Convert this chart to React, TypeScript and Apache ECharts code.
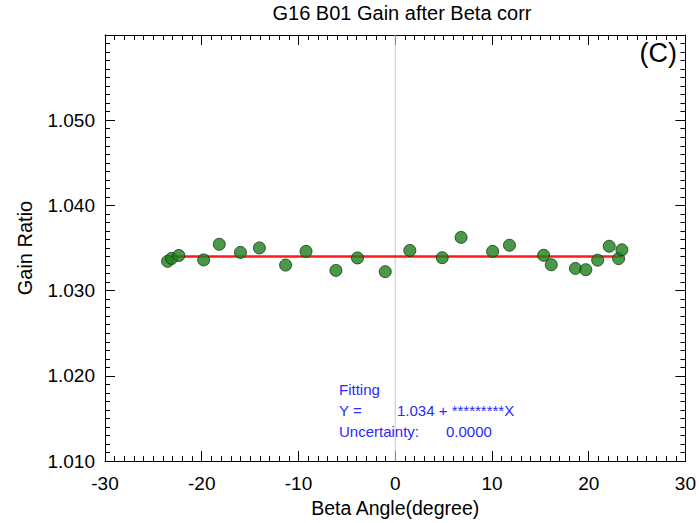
import React, { useEffect, useRef } from "react";
import * as echarts from "echarts";

const betaAngle = [-23.53, -23.12, -22.37, -19.8, -18.19, -16.0, -14.04, -11.33, -9.22, -6.13, -3.9, -1.03, 1.51, 4.86, 6.81, 10.07, 11.81, 15.34, 16.13, 18.63, 19.7, 20.93, 22.12, 23.09, 23.43];
const gainRatio = [1.03344, 1.03378, 1.03413, 1.03361, 1.03544, 1.03449, 1.03502, 1.033, 1.03461, 1.03238, 1.03384, 1.03223, 1.03472, 1.03387, 1.03625, 1.03461, 1.03533, 1.03415, 1.03304, 1.03261, 1.03246, 1.03358, 1.03521, 1.03376, 1.03479];
const fitX = [-23.53, 23.43];
const fitIntercept = 1.034;
const xTicks = [-30, -20, -10, 0, 10, 20, 30];
const yTicks = [1.01, 1.02, 1.03, 1.04, 1.05, 1.06];
const fitLabels = ["Fitting", "Y =", "Uncertainty:"];
const fitValues = ["", "1.034 + *********X", "0.0000"];

const FONT = "Liberation Sans, Arial, Helvetica, sans-serif";

export default function App() {
  const ref = useRef<HTMLDivElement>(null);
  useEffect(() => {
    if (!ref.current) return;
    const chart = echarts.init(ref.current, undefined, { renderer: "svg" });
    const xMin = xTicks[0];
    const xMax = xTicks[xTicks.length - 1];
    const yMin = yTicks[0];
    const yMax = yTicks[yTicks.length - 1];
    const baseX = {
      type: "value",
      min: xMin,
      max: xMax,
      interval: 10,
      axisLine: { show: true, onZero: false, lineStyle: { color: "#000", width: 1 } },
      axisTick: { show: true, inside: true, length: 10, lineStyle: { color: "#000" } },
      minorTick: { show: true, splitNumber: 10, length: 5, lineStyle: { color: "#000" } },
      splitLine: { show: false },
    };
    const baseY = {
      type: "value",
      min: yMin,
      max: yMax,
      interval: 0.01,
      axisLine: { show: true, onZero: false, lineStyle: { color: "#000", width: 1 } },
      axisTick: { show: true, inside: true, length: 10, lineStyle: { color: "#000" } },
      minorTick: { show: true, splitNumber: 10, length: 5, lineStyle: { color: "#000" } },
      splitLine: { show: false },
    };
    chart.setOption({
      animation: false,
      backgroundColor: "#fff",
      textStyle: { fontFamily: FONT },
      grid: { left: 105, right: 10, top: 35, bottom: 51 },
      title: {
        text: "G16 B01 Gain after Beta corr",
        left: 397,
        top: -2,
        textAlign: "center",
        textStyle: { fontFamily: FONT, fontSize: 20, fontWeight: "normal", color: "#000" },
      },
      xAxis: [
        {
          ...baseX,
          position: "bottom",
          name: "Beta Angle(degree)",
          nameLocation: "middle",
          nameGap: 32,
          nameTextStyle: { fontFamily: FONT, fontSize: 19.5, color: "#000" },
          axisLabel: { show: true, fontFamily: FONT, fontSize: 19, color: "#000", margin: 13 },
        },
        { ...baseX, position: "top", axisLabel: { show: false } },
      ],
      yAxis: [
        {
          ...baseY,
          position: "left",
          name: "Gain Ratio",
          nameLocation: "middle",
          nameGap: 70,
          nameTextStyle: { fontFamily: FONT, fontSize: 20, color: "#000" },
          axisLabel: {
            show: true,
            fontFamily: FONT,
            fontSize: 19,
            color: "#000",
            margin: 10,
            formatter: (v: number) => (v > yMax - 0.005 ? "" : v.toFixed(3)),
          },
        },
        { ...baseY, position: "right", axisLabel: { show: false } },
      ],
      series: [
        {
          type: "line",
          data: [[0, yMin], [0, yMax]],
          symbol: "none",
          lineStyle: { color: "#c8c8c8", width: 1 },
          z: 1,
        },
        {
          type: "line",
          data: fitX.map((x) => [x, fitIntercept]),
          symbol: "none",
          lineStyle: { color: "#ff1a1a", width: 2.5 },
          z: 3,
        },
        {
          type: "scatter",
          data: betaAngle.map((x, i) => [x, gainRatio[i]]),
          symbol: "circle",
          symbolSize: 12,
          itemStyle: { color: "#1d7f1d", borderColor: "#123412", borderWidth: 1 },
          z: 4,
        },
      ],
      graphic: [
        {
          type: "text",
          right: 22,
          top: 39,
          style: { text: "(C)", fontFamily: FONT, fontSize: 27, fill: "#000" },
        },
        ...fitLabels.map((t, i) => ({
          type: "text",
          left: 339,
          top: 382 + i * 21,
          style: { text: t, fontFamily: FONT, fontSize: 15, fill: "#2a2aff" },
        })),
        ...fitValues.map((t, i) => ({
          type: "text",
          left: i === 1 ? 397 : 446,
          top: 382 + i * 21,
          style: { text: t, fontFamily: FONT, fontSize: 15, fill: "#2a2aff" },
        })),
      ],
    });
    return () => chart.dispose();
  }, []);
  return <div ref={ref} style={{ width: 699, height: 523, position: "absolute", left: 0, top: 0 }} />;
}
